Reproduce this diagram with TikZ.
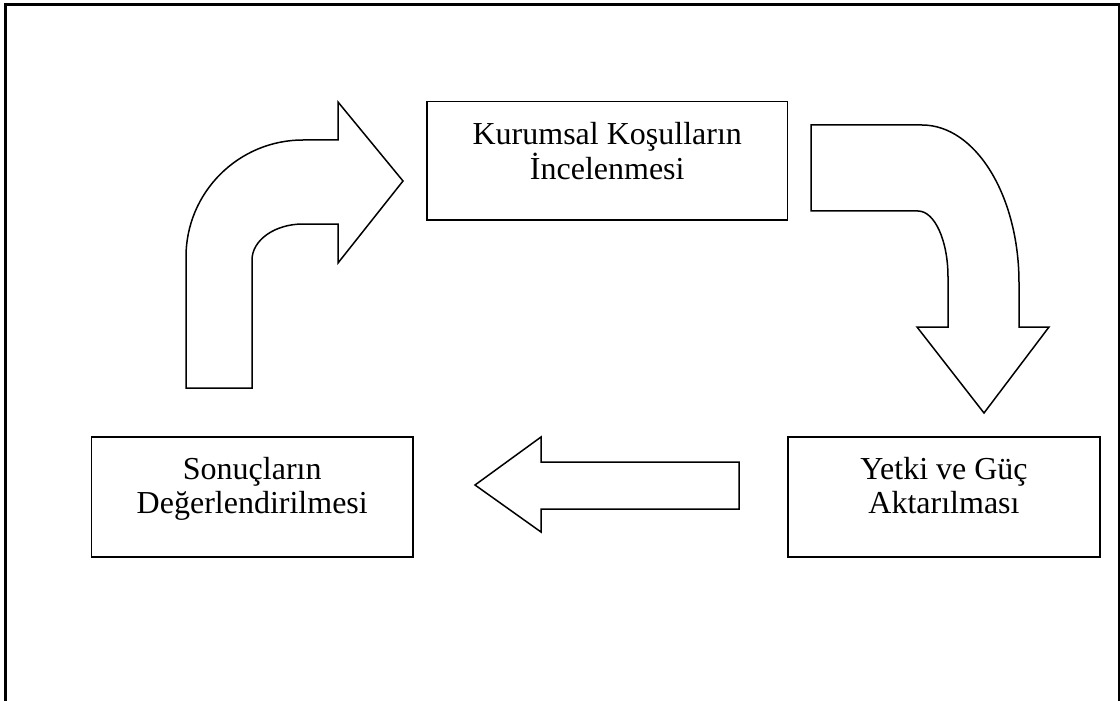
\documentclass[tikz,border=0pt]{standalone}
\usepackage{fontspec}
\setmainfont{Liberation Serif}
\begin{document}
\begin{tikzpicture}[x=0.5pt,y=-0.5pt,
  stagebox/.style={draw, line width=0.8pt, inner sep=0pt},
  stagetext/.style={font=\fontsize{16}{17.25}\selectfont, align=center, anchor=base, inner sep=0pt},
  blockarrow/.style={draw, line width=0.75pt, line join=miter, fill=white}]
\useasboundingbox (0,0) rectangle (1120,701);
\clip (0,0) rectangle (1120,701);

% page frame, open at the bottom
\draw[line width=1.5pt] (5.5,720) -- (5.5,4.5) -- (1119.5,4.5) -- (1119.5,720);

% process stages
\node[stagebox, minimum width=180.25pt, minimum height=59.25pt] (kurum) at (607.25,160.75) {};
\node[stagebox, minimum width=156pt, minimum height=60pt] (yetki) at (944,497) {};
\node[stagebox, minimum width=160.75pt, minimum height=60pt] (sonuc) at (252.25,497) {};

% labels (anchored on the baseline of their last line)
\node[stagetext] (kurumtxt) at (607.25,179) {Kurumsal Koşulların\\İncelenmesi};
\node[stagetext] (yetkitxt) at (944,513.5) {Yetki ve Güç\\Aktarılması};
\node[stagetext] (sonuctxt) at (252.25,513.5) {Sonuçların\\Değerlendirilmesi};

% curved block arrow: up and to the right
\draw[blockarrow] (186,388) -- (186,257)
  .. controls (186,192.4) and (238.4,140) .. (303,140)
  -- (338,140) -- (338,102) -- (403,181) -- (338,263) -- (338,224) -- (303,224)
  .. controls (274.8,224) and (252,240.1) .. (252,260)
  -- (252,388) -- cycle;

% curved block arrow: right and down
\draw[blockarrow] (811,125) -- (922,125)
  .. controls (975.6,125) and (1019,195.7) .. (1019,283)
  -- (1019,327) -- (1049,327) -- (984,413) -- (917,327) -- (948,327) -- (948,277)
  .. controls (948,240.5) and (934.6,211) .. (918,211)
  -- (811,211) -- cycle;

% straight block arrow pointing left
\draw[blockarrow] (475,485) -- (541,437) -- (541,462) -- (739,462)
  -- (739,509) -- (541,509) -- (541,532) -- cycle;
\end{tikzpicture}
\end{document}
